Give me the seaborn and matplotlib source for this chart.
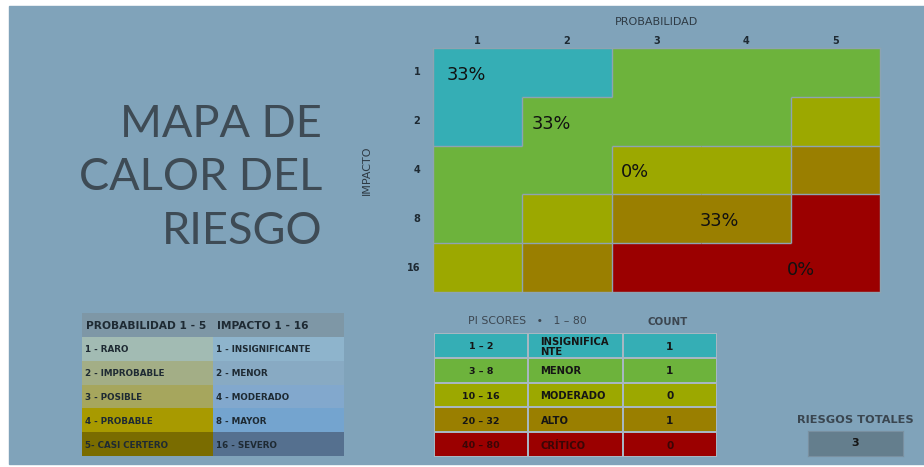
import numpy as np
import pandas as pd
import matplotlib
matplotlib.use("Agg")
import matplotlib.pyplot as plt
from matplotlib.colors import ListedColormap
from matplotlib.patches import Rectangle
import seaborn as sns

# ---------------- data ----------------
prob_levels = [1, 2, 3, 4, 5]
impact_levels = [1, 2, 4, 8, 16]
score_ranges = ["1 – 2", "3 – 8", "10 – 16", "20 – 32", "40 – 80"]
score_upper = [2, 8, 16, 32, 80]
score_names = ["INSIGNIFICA\nNTE", "MENOR", "MODERADO", "ALTO", "CRÍTICO"]
counts = [1, 1, 0, 1, 0]
prob_names = ["1 - RARO", "2 - IMPROBABLE", "3 - POSIBLE", "4 - PROBABLE", "5- CASI CERTERO"]
impact_names = ["1 - INSIGNIFICANTE", "2 - MENOR", "4 - MODERADO", "8 - MAYOR", "16 - SEVERO"]

# ---------------- styles ----------------
BG = "#80A3BA"
RISK_COLORS = ["#35AEB5", "#6DB33C", "#9CA800", "#9A7F00", "#9B0000"]
PROB_COLORS = ["#A2BBB3", "#A3AE86", "#A6A65D", "#A89A00", "#7A6C00"]
IMP_COLORS = ["#8EB4CC", "#88AAC3", "#82A8CD", "#74A4CF", "#55708F"]
HEAD_COLOR = "#7E97A6"
EDGE = "#8EA3B2"
LABEL_DX = [0.37, 0.32, 0.26, 0.20, 0.12]
TXT = "#1E2A33"
TF = "DejaVu Sans"

W, H = 924, 467
fig = plt.figure(figsize=(W / 100, H / 100), dpi=100, facecolor="white")


def fax(x0, y0, x1, y1):
    return fig.add_axes([x0 / W, 1 - y1 / H, (x1 - x0) / W, (y1 - y0) / H])


fig.patches.append(Rectangle((9 / W, 3 / H), 1 - 9 / W, (H - 9) / H,
                             transform=fig.transFigure, color=BG, zorder=-10))

# ---------------- heat map ----------------
scores = np.array(impact_levels)[:, None] * np.array(prob_levels)[None, :]
cat = np.searchsorted(score_upper, scores)
df = pd.DataFrame(cat, index=impact_levels, columns=prob_levels)

ax = fax(433, 48, 880, 292)
sns.heatmap(df, ax=ax, cmap=ListedColormap(RISK_COLORS), vmin=-0.5, vmax=4.5,
            cbar=False, linewidths=0)
ax.xaxis.tick_top()
ax.tick_params(length=0, labelsize=7, pad=1.5)
ax.tick_params(axis="y", pad=9, rotation=0)
for t in ax.get_xticklabels() + ax.get_yticklabels():
    t.set_fontweight("bold")
    t.set_color(TXT)
ax.set_xlabel("PROBABILIDAD", fontsize=8, color="#2E3A44", labelpad=8)
ax.xaxis.set_label_position("top")
ax.set_ylabel("IMPACTO", fontsize=8, color="#2E3A44", labelpad=25)
for s in ax.spines.values():
    s.set_visible(True)
    s.set_color(EDGE)
    s.set_linewidth(1)
nr, nc = cat.shape
for i in range(nr):
    for j in range(nc):
        if j + 1 < nc and cat[i, j] != cat[i, j + 1]:
            ax.vlines(j + 1, i, i + 1, color=EDGE, lw=1)
        if i + 1 < nr and cat[i, j] != cat[i + 1, j]:
            ax.hlines(i + 1, j, j + 1, color=EDGE, lw=1)
total = sum(counts)
for k, c in enumerate(counts):
    pct = round(100 * c / total)
    ax.text(k + LABEL_DX[k], k + 0.55, f"{pct}%", ha="center", va="center",
            fontsize=12.8, color="#111111")

# ---------------- title ----------------
fig.text(322 / W, 1 - 178 / H, "MAPA DE\nCALOR DEL\nRIESGO", ha="right", va="center",
         fontsize=32.5, color="#3E4B55", family="Lato",
         linespacing=1.38)

# ---------------- left legend table ----------------
lt = np.array([[0, 0]] + [[1 + i, 6 + i] for i in range(5)])
lax = fax(82, 313, 344, 456)
sns.heatmap(lt, ax=lax, cmap=ListedColormap([HEAD_COLOR] + PROB_COLORS + IMP_COLORS),
            vmin=-0.5, vmax=10.5, cbar=False, xticklabels=False, yticklabels=False)
lax.text(0.03, 0.55, "PROBABILIDAD 1 - 5", va="center", ha="left", fontsize=7.7,
         fontweight="bold", color=TXT, family=TF)
lax.text(1.03, 0.55, "IMPACTO 1 - 16", va="center", ha="left", fontsize=7.7,
         fontweight="bold", color=TXT, family=TF)
for i in range(5):
    lax.text(0.02, i + 1.55, prob_names[i], va="center", ha="left", fontsize=6.3,
             fontweight="bold", color=TXT, family=TF)
    lax.text(1.02, i + 1.55, impact_names[i], va="center", ha="left", fontsize=6.3,
             fontweight="bold", color=TXT, family=TF)

# ---------------- score table ----------------
st = np.repeat(np.arange(5)[:, None], 3, axis=1)
sax = fax(434, 333, 717, 457)
sns.heatmap(st, ax=sax, cmap=ListedColormap(RISK_COLORS), vmin=-0.5, vmax=4.5,
            cbar=False, linewidths=1.2, linecolor="#A7B7C2",
            xticklabels=False, yticklabels=False)
for i in range(5):
    col = "#3A0606" if i == 4 else "#151515"
    sax.text(0.5, i + 0.55, score_ranges[i], ha="center", va="center", fontsize=6.8,
             fontweight="bold", color=col)
    sax.text(1.13, i + 0.55, score_names[i], ha="left", va="center", fontsize=7.2,
             fontweight="bold", color=col, linespacing=1.0)
    sax.text(2.5, i + 0.55, str(counts[i]), ha="center", va="center", fontsize=7.6,
             fontweight="bold", color=col)
fig.text(527 / W, 1 - 321 / H, "PI SCORES   •   1 – 80", ha="center", va="center",
         fontsize=7.8, color="#3C4650")
fig.text(668 / W, 1 - 322 / H, "COUNT", ha="center", va="center",
         fontsize=7.4, color="#3C4650", fontweight="bold")

# ---------------- total ----------------
fig.text(855 / W, 1 - 420 / H, "RIESGOS TOTALES", ha="center", va="center",
         fontsize=8.2, color="#3A4650", fontweight="bold")
tax = fax(808, 431, 903, 456)
tax.set_facecolor("#647E8D")
tax.set_xticks([]); tax.set_yticks([])
for s in tax.spines.values():
    s.set_color("#7990A0")
tax.text(0.5, 0.5, str(total), ha="center", va="center", fontsize=8,
         fontweight="bold", color="#151515", transform=tax.transAxes)

fig.savefig("out.png", dpi=100, facecolor="white")
